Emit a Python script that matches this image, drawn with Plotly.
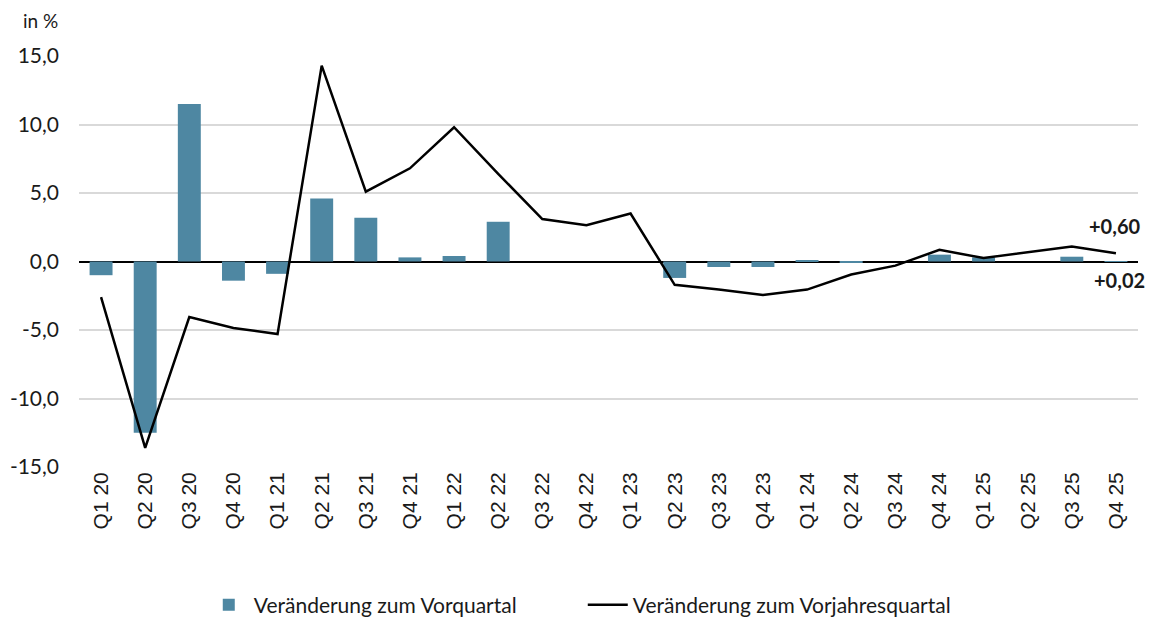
import plotly.graph_objects as go

quarters = ["Q1 20", "Q2 20", "Q3 20", "Q4 20", "Q1 21", "Q2 21", "Q3 21", "Q4 21",
            "Q1 22", "Q2 22", "Q3 22", "Q4 22", "Q1 23", "Q2 23", "Q3 23", "Q4 23",
            "Q1 24", "Q2 24", "Q3 24", "Q4 24", "Q1 25", "Q2 25", "Q3 25", "Q4 25"]

vorquartal = [-1.0, -12.5, 11.5, -1.4, -0.9, 4.6, 3.2, 0.3,
              0.4, 2.9, 0.0, 0.0, 0.0, -1.2, -0.4, -0.4,
              0.1, -0.1, 0.0, 0.5, 0.3, 0.0, 0.35, 0.02]

vorjahresquartal = [-2.6, -13.6, -4.05, -4.85, -5.3, 14.3, 5.1, 6.8,
                    9.8, 6.4, 3.1, 2.65, 3.5, -1.7, -2.05, -2.45,
                    -2.05, -0.95, -0.3, 0.85, 0.25, 0.7, 1.1, 0.6]

y_tickvals = [-15, -10, -5, 0, 5, 10, 15]
y_ticktext = ["-15,0", "-10,0", "-5,0", "0,0", "5,0", "10,0", "15,0"]

label_last_line = "+0,60"
label_last_bar = "+0,02"

bar_color = "#4E87A2"
txt_font = "Lato, Calibri, sans-serif"
txt_color = "#1a1a1a"

# page body has an 8px offset; compensate so the plot lands where the reference has it
W, H = 1145, 611
ML, MT, MR = 71, 48, 15
PH = 411
MB = H - MT - PH

fig = go.Figure()
fig.add_trace(go.Bar(
    x=quarters, y=vorquartal, name="Veränderung zum Vorquartal",
    marker=dict(color=bar_color, line=dict(width=0)),
))
fig.add_trace(go.Scatter(
    x=quarters, y=vorjahresquartal, name="Veränderung zum Vorjahresquartal",
    mode="lines", line=dict(color="black", width=2.5),
))

fig.add_annotation(x=quarters[-1], y=vorjahresquartal[-1], text="<b>" + label_last_line + "</b>",
                   showarrow=False, xanchor="center", yanchor="bottom", yshift=13, xshift=-1,
                   font=dict(family=txt_font, size=20, color=txt_color))
fig.add_annotation(x=quarters[-1], y=vorquartal[-1], text="<b>" + label_last_bar + "</b>",
                   showarrow=False, xanchor="center", yanchor="top", yshift=-5, xshift=4,
                   font=dict(family=txt_font, size=20, color=txt_color))

fig.add_annotation(xref="paper", yref="paper", x=-0.0368, y=(PH + MT - 12) / PH,
                   text="in %", showarrow=False, xanchor="center", yanchor="middle",
                   font=dict(family=txt_font, size=19, color=txt_color))

fig.update_layout(
    width=W, height=H,
    margin=dict(l=ML, r=MR, t=MT, b=MB, autoexpand=False),
    plot_bgcolor="white", paper_bgcolor="white",
    bargap=0.48,
    showlegend=True,
    legend=dict(orientation="h", x=0.4757, xanchor="center", yref="container",
                y=1 - 597 / H, yanchor="middle",
                font=dict(family=txt_font, size=21, color=txt_color),
                traceorder="normal", itemwidth=40,
                entrywidth=324, entrywidthmode="pixels"),
    xaxis=dict(type="category", categoryorder="array", categoryarray=quarters,
               tickangle=-90, showgrid=False, showline=False, ticks="", automargin=False,
               tickfont=dict(family="Liberation Sans, Arial, sans-serif", size=21, color=txt_color),
               range=[-0.5, len(quarters) - 0.5]),
    yaxis=dict(range=[-15, 15], tickvals=y_tickvals, ticktext=y_ticktext, automargin=False,
               showgrid=True, gridcolor="#d9d9d9", gridwidth=1.5,
               zeroline=True, zerolinecolor="black", zerolinewidth=2,
               showline=False, ticks="", ticklabelstandoff=19,
               tickfont=dict(family=txt_font, size=21, color=txt_color)),
)

fig.write_html("out.html")
